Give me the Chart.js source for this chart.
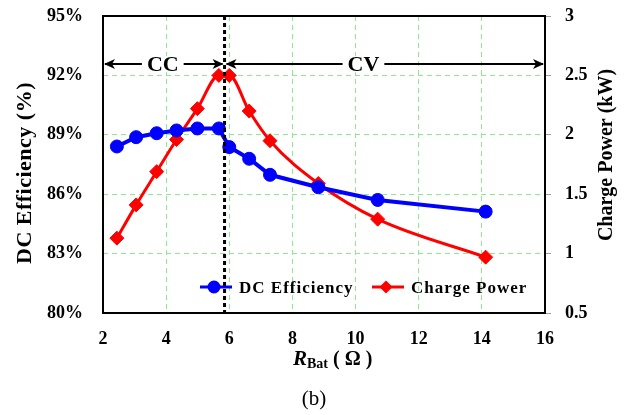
<!DOCTYPE html>
<html>
<head>
<meta charset="utf-8">
<script src="https://cdn.jsdelivr.net/npm/chart.js@4.4.1/dist/chart.umd.min.js"></script>
<style>
  body { margin: 0; background: #fff; }
  #wrap { width: 627px; height: 415px; position: relative; }
</style>
</head>
<body>
<div id="wrap"><canvas id="grafico"></canvas></div>
<script>
// dados
var rBat = [2.44, 3.05, 3.70, 4.33, 4.99, 5.67, 6.00, 6.63, 7.29, 8.82, 10.70, 14.12];
var dcEff = [88.41, 88.88, 89.08, 89.22, 89.32, 89.32, 88.38, 87.79, 86.98, 86.35, 85.71, 85.12];
var chargePower = [1.13, 1.41, 1.69, 1.96, 2.22, 2.50, 2.50, 2.20, 1.95, 1.59, 1.29, 0.97];
var seriesNames = ['DC Efficiency', 'Charge Power'];
var effTicks = [80, 83, 86, 89, 92, 95];
var powerTicks = [0.5, 1, 1.5, 2, 2.5, 3];
var xTicks = [2, 4, 6, 8, 10, 12, 14, 16];
var ccCvBoundary = 5.85;
var arrowLevel = 92.57;

var serif = "'Liberation Serif', 'Times New Roman', serif";
var gridGreen = '#8FEA8F';

function pts(ys) {
  return rBat.map(function (x, i) { return { x: x, y: ys[i] }; });
}

function hideEdges(ticks) {
  return function (c) {
    if (!c.tick) return gridGreen;
    var v = c.tick.value;
    return (v === ticks[0] || v === ticks[ticks.length - 1]) ? 'rgba(0,0,0,0)' : gridGreen;
  };
}

function fixWidth(w) {
  return function (s) { s.width = w; s.paddingTop = 0; s.paddingBottom = 0; };
}

function arrowHead(ctx, x, y, dir) {
  ctx.beginPath();
  ctx.moveTo(x, y);
  ctx.lineTo(x - dir * 11, y - 5);
  ctx.lineTo(x - dir * 8, y);
  ctx.lineTo(x - dir * 11, y + 5);
  ctx.closePath();
  ctx.fill();
}

var extras = {
  id: 'extras',
  beforeDatasetsDraw: function (chart) {
    var ctx = chart.ctx, a = chart.chartArea;
    ctx.save();
    ctx.strokeStyle = '#000';
    ctx.lineWidth = 2;
    ctx.strokeRect(a.left, a.top, a.right - a.left, a.bottom - a.top);
    ctx.restore();
  },
  afterDatasetsDraw: function (chart) {
    var ctx = chart.ctx, a = chart.chartArea;
    var xs = chart.scales.x, ys = chart.scales.y;
    var xb = xs.getPixelForValue(ccCvBoundary);
    var ya = ys.getPixelForValue(arrowLevel);
    ctx.save();
    // linha tracejada CC/CV
    ctx.strokeStyle = '#000';
    ctx.lineWidth = 3;
    ctx.setLineDash([4, 3]);
    ctx.beginPath();
    ctx.moveTo(xb, a.top);
    ctx.lineTo(xb, a.bottom);
    ctx.stroke();
    ctx.setLineDash([]);
    // setas
    ctx.lineWidth = 2;
    ctx.fillStyle = '#000';
    ctx.beginPath();
    ctx.moveTo(a.left + 2, ya);
    ctx.lineTo(xb - 2, ya);
    ctx.moveTo(xb + 2, ya);
    ctx.lineTo(a.right - 2, ya);
    ctx.stroke();
    arrowHead(ctx, a.left + 1, ya, -1);
    arrowHead(ctx, xb - 1, ya, 1);
    arrowHead(ctx, xb + 1, ya, -1);
    arrowHead(ctx, a.right - 1, ya, 1);
    ctx.font = 'bold 22px ' + serif;
    ctx.textAlign = 'center';
    ctx.textBaseline = 'middle';
    var labels = [['CC', (a.left + xb) / 2 - 1], ['CV', xs.getPixelForValue(10.25)]];
    labels.forEach(function (l) {
      var w = ctx.measureText(l[0]).width + 10;
      ctx.fillStyle = '#fff';
      ctx.fillRect(l[1] - w / 2, ya - 8, w, 16);
      ctx.fillStyle = '#000';
      ctx.fillText(l[0], l[1], ya + 1);
    });
    ctx.restore();
  },
  afterDraw: function (chart) {
    var ctx = chart.ctx, a = chart.chartArea;
    ctx.save();
    ctx.fillStyle = '#000';
    ctx.textBaseline = 'middle';
    ctx.textAlign = 'center';
    // titulos dos eixos y
    ctx.font = 'bold 22px ' + serif;
    ctx.letterSpacing = '0.5px';
    ctx.save();
    ctx.translate(25, 173);
    ctx.rotate(-Math.PI / 2);
    ctx.fillText('DC Efficiency (%)', 0, 0);
    ctx.restore();
    ctx.letterSpacing = '0px';
    ctx.font = 'bold 20px ' + serif;
    ctx.save();
    ctx.translate(607, 155);
    ctx.rotate(-Math.PI / 2);
    ctx.fillText('Charge Power (kW)', 0, 0);
    ctx.restore();
    // titulo eixo x
    ctx.textAlign = 'left';
    ctx.textBaseline = 'alphabetic';
    var x = 293, base = 365;
    ctx.font = 'italic bold 21px ' + serif;
    ctx.fillText('R', x, base);
    x += ctx.measureText('R').width;
    ctx.font = 'bold 14px ' + serif;
    ctx.fillText('Bat', x, base + 3);
    x += ctx.measureText('Bat').width;
    ctx.font = 'bold 20px ' + serif;
    ctx.fillText(' ( \u03A9 )', x, base);
    // legenda
    var ly = a.bottom - 26;
    var items = [
      { x: 200, color: '#0000FF', style: 'circle', text: seriesNames[0] },
      { x: 372, color: '#FF0000', style: 'rectRot', text: seriesNames[1] }
    ];
    items.forEach(function (it) {
      ctx.strokeStyle = it.color;
      ctx.fillStyle = it.color;
      ctx.lineWidth = 3;
      ctx.beginPath();
      ctx.moveTo(it.x, ly);
      ctx.lineTo(it.x + 32, ly);
      ctx.stroke();
      Chart.helpers.drawPoint(ctx, { pointStyle: it.style, radius: it.style === 'circle' ? 5 : 4.5, rotation: 0, borderWidth: 1 }, it.x + 14, ly);
      ctx.fillStyle = '#000';
      ctx.font = 'bold 17px ' + serif;
      ctx.letterSpacing = '1px';
      ctx.fillText(it.text, it.x + 39, ly + 6);
      ctx.letterSpacing = '0px';
    });
    // legenda (b)
    ctx.font = '21px ' + serif;
    ctx.textAlign = 'center';
    ctx.fillText('(b)', 314, 405);
    ctx.restore();
  }
};

var ctx = document.getElementById('grafico').getContext('2d');
var myChart = new Chart(ctx, {
  type: 'line',
  data: {
    datasets: [{
      label: seriesNames[0],
      data: pts(dcEff),
      yAxisID: 'y',
      borderColor: '#0000FF',
      backgroundColor: '#0000FF',
      borderWidth: 4,
      pointStyle: 'circle',
      pointRadius: 6.5,
      pointBorderWidth: 1,
      tension: 0
    },
    {
      label: seriesNames[1],
      data: pts(chargePower),
      yAxisID: 'y1',
      borderColor: '#FF0000',
      backgroundColor: '#FF0000',
      borderWidth: 3,
      pointStyle: 'rectRot',
      pointRadius: 7,
      pointBorderWidth: 1,
      cubicInterpolationMode: 'monotone'
    }]
  },
  options: {
    responsive: true,
    maintainAspectRatio: false,
    animation: false,
    layout: { padding: { top: 16, left: 0, right: 0, bottom: 0 } },
    plugins: {
      legend: { display: false },
      tooltip: { enabled: false }
    },
    scales: {
      x: {
        type: 'linear',
        min: xTicks[0],
        max: xTicks[xTicks.length - 1],
        afterBuildTicks: function (s) { s.ticks = xTicks.map(function (v) { return { value: v }; }); },
        afterFit: function (s) { s.height = 102; s.paddingLeft = 0; s.paddingRight = 0; },
        grid: { color: hideEdges(xTicks), lineWidth: 1, drawTicks: false },
        border: { display: false, dash: [5, 4] },
        ticks: { padding: 16, color: '#000', font: { family: serif, size: 18, weight: 'bold' } }
      },
      y: {
        position: 'left',
        min: effTicks[0],
        max: effTicks[effTicks.length - 1],
        afterBuildTicks: function (s) { s.ticks = effTicks.map(function (v) { return { value: v }; }); },
        afterFit: fixWidth(103),
        grid: { color: hideEdges(effTicks), lineWidth: 1, drawTicks: false },
        border: { display: false, dash: [5, 4] },
        ticks: {
          padding: 20, color: '#000',
          font: { family: serif, size: 18, weight: 'bold' },
          callback: function (v) { return v + '%'; }
        }
      },
      y1: {
        position: 'right',
        min: powerTicks[0],
        max: powerTicks[powerTicks.length - 1],
        afterBuildTicks: function (s) { s.ticks = powerTicks.map(function (v) { return { value: v }; }); },
        afterFit: fixWidth(82),
        grid: { drawOnChartArea: false, drawTicks: true, tickLength: 6, color: '#A0A0A0' },
        border: { display: false },
        ticks: {
          padding: 14, color: '#000',
          font: { family: serif, size: 18, weight: 'bold' },
          callback: function (v) { return String(v); }
        }
      }
    }
  },
  plugins: [extras]
});
</script>
</body>
</html>
